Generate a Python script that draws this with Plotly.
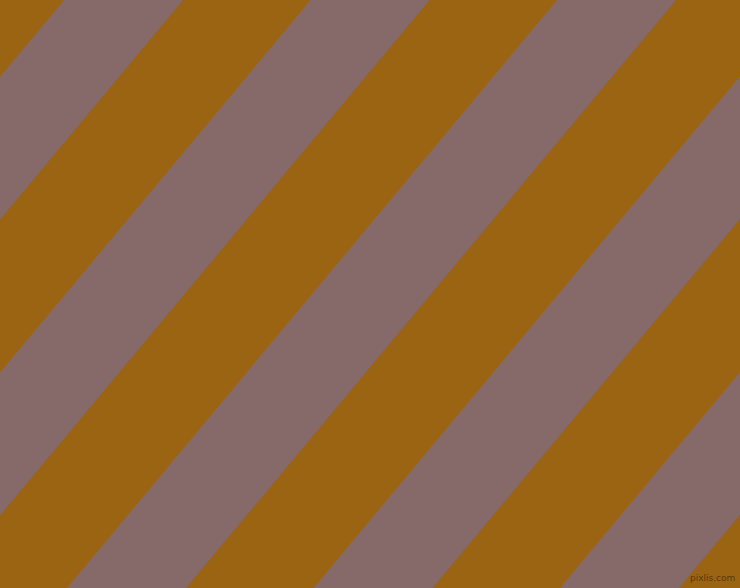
import plotly.graph_objects as go

# stripe pattern (pixels along the top edge)
stripe_starts = [64, 310.5, 557, 803.5, 1050]   # left edge of each mauve band at y=0
stripe_width = 119
drift = 490        # how far a band moves left from top (y=0) to bottom (y=588)
W, H = 740, 588

orange = "#9b6413"
mauve = "#866969"

fig = go.Figure()
for s in stripe_starts:
    xs = [s, s + stripe_width, s + stripe_width - drift, s - drift, s]
    ys = [0, 0, H, H, 0]
    fig.add_trace(go.Scatter(x=xs, y=ys, mode="lines", fill="toself",
                             fillcolor=mauve, line=dict(width=0, color=mauve),
                             hoverinfo="skip", showlegend=False))

fig.add_annotation(x=1, y=0, xref="paper", yref="paper", xanchor="right", yanchor="bottom",
                   text="pixlis.com", showarrow=False, xshift=-3, yshift=3,
                   font=dict(family="DejaVu Sans", size=9, color="rgba(60,40,10,0.75)"))

fig.update_layout(width=W, height=H, margin=dict(l=0, r=0, t=0, b=0),
                  plot_bgcolor=orange, paper_bgcolor=orange,
                  xaxis=dict(range=[0, W], visible=False, fixedrange=True),
                  yaxis=dict(range=[H, 0], visible=False, fixedrange=True))

# page has a default 8px body margin, drop it so the picture sits at 0,0
fig.write_html("out.html", config={"displayModeBar": False},
               post_script="document.body.style.margin='0';document.body.style.overflow='hidden';")
